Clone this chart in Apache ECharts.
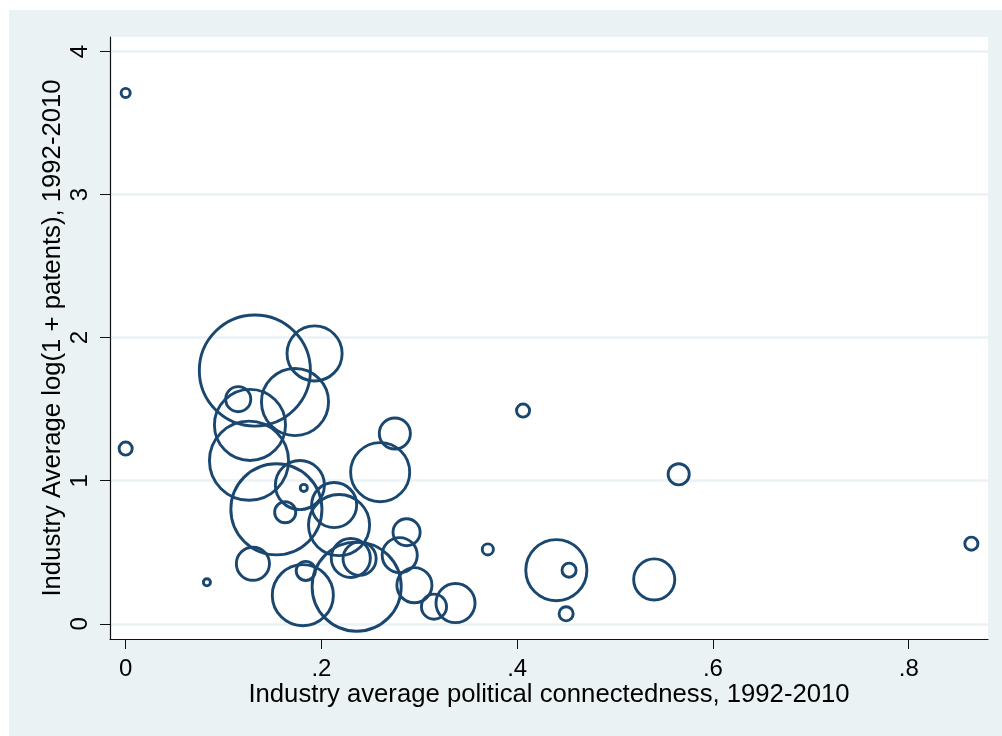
<!DOCTYPE html>
<html>
<head>
<meta charset="utf-8">
<script src="https://cdn.jsdelivr.net/npm/echarts@6/dist/echarts.min.js"></script>
<style>
  html, body { margin: 0; padding: 0; background: #fff; }
  #chart { position: absolute; left: 9px; top: 10px; width: 993px; height: 726px; }
</style>
</head>
<body>
<div id="chart"></div>
<script>
// industry average political connectedness
const connectedness = [
  0.000, 0.000, 0.083, 0.132, 0.193, 0.173, 0.115, 0.127, 0.126, 0.178,
  0.182, 0.154, 0.163, 0.213, 0.218, 0.260, 0.275, 0.130, 0.181, 0.184,
  0.236, 0.230, 0.239, 0.287, 0.280, 0.295, 0.315, 0.337, 0.370, 0.406,
  0.565, 0.440, 0.453, 0.450, 0.540, 0.864
]
// industry average log(1 + patents)
const logPatents = [
  3.71, 1.225, 0.29, 1.77, 1.89, 1.55, 1.57, 1.39, 1.14, 0.97,
  0.95, 0.80, 0.78, 0.83, 0.69, 1.06, 1.33, 0.42, 0.20, 0.37,
  0.26, 0.46, 0.455, 0.64, 0.48, 0.27, 0.12, 0.145, 0.52, 1.49,
  1.045, 0.375, 0.375, 0.07, 0.31, 0.56
]
// bubble weights (industry size)
const weights = [
  0.36, 0.64, 0.25, 32.49, 8.41, 12.25, 1.96, 13.69, 16.81, 6.76,
  0.25, 22.09, 1.44, 5.76, 10.24, 9.61, 2.89, 3.24, 10.24, 1.21,
  21.16, 4.41, 3.24, 2.25, 3.61, 3.61, 1.96, 4.41, 0.49, 0.64,
  1.44, 10.24, 0.72, 0.72, 4.84, 0.64
]
const xTicks = [0, 0.2, 0.4, 0.6, 0.8]
const yTicks = [0, 1, 2, 3, 4]

const navy = '#1a476f'
const bg = '#eaf2f3'
const font = 'Liberation Sans, Arial, sans-serif'
const ring = 2.9

const points = connectedness.map((x, i) => [x, logPatents[i], weights[i]])

const chart = echarts.init(document.getElementById('chart'))

chart.setOption({
  backgroundColor: bg,
  animation: false,
  grid: {
    left: 101,
    right: 14,
    top: 27,
    bottom: 97,
    show: true,
    backgroundColor: '#fff',
    borderWidth: 0
  },
  xAxis: {
    type: 'value',
    min: -0.016,
    max: 0.881,
    name: 'Industry average political connectedness, 1992-2010',
    nameLocation: 'middle',
    nameGap: 43,
    nameMoveOverlap: false,
    nameTextStyle: { color: '#000', fontSize: 25.7, fontFamily: font },
    axisLine: { onZero: false, lineStyle: { color: '#111', width: 1.2 } },
    axisTick: {
      length: 10,
      customValues: xTicks,
      lineStyle: { color: '#111', width: 1 }
    },
    axisLabel: {
      customValues: xTicks,
      margin: 18,
      color: '#000',
      fontSize: 24,
      fontFamily: font,
      formatter: v => (v === 0 ? '0' : String(v).replace(/^0/, ''))
    },
    splitLine: { show: false }
  },
  yAxis: {
    type: 'value',
    min: -0.106,
    max: 4.101,
    name: 'Industry Average log(1 + patents), 1992-2010',
    nameLocation: 'middle',
    nameGap: 44,
    nameMoveOverlap: false,
    nameTextStyle: { color: '#000', fontSize: 25.7, fontFamily: font },
    axisLine: { onZero: false, lineStyle: { color: '#111', width: 1.2 } },
    axisTick: {
      length: 10,
      customValues: yTicks,
      lineStyle: { color: '#111', width: 1 }
    },
    axisLabel: {
      customValues: yTicks,
      rotate: 90,
      margin: 18,
      color: '#000',
      fontSize: 24,
      fontFamily: font
    },
    splitLine: { show: true, lineStyle: { color: bg, width: 2.5 } }
  },
  series: [
    {
      type: 'scatter',
      data: points,
      symbol: 'circle',
      symbolSize: v => 20 * Math.sqrt(v[2]) - ring,
      silent: true,
      itemStyle: {
        color: 'rgba(0,0,0,0)',
        borderColor: navy,
        borderWidth: ring,
        opacity: 1
      }
    }
  ]
})
</script>
</body>
</html>
